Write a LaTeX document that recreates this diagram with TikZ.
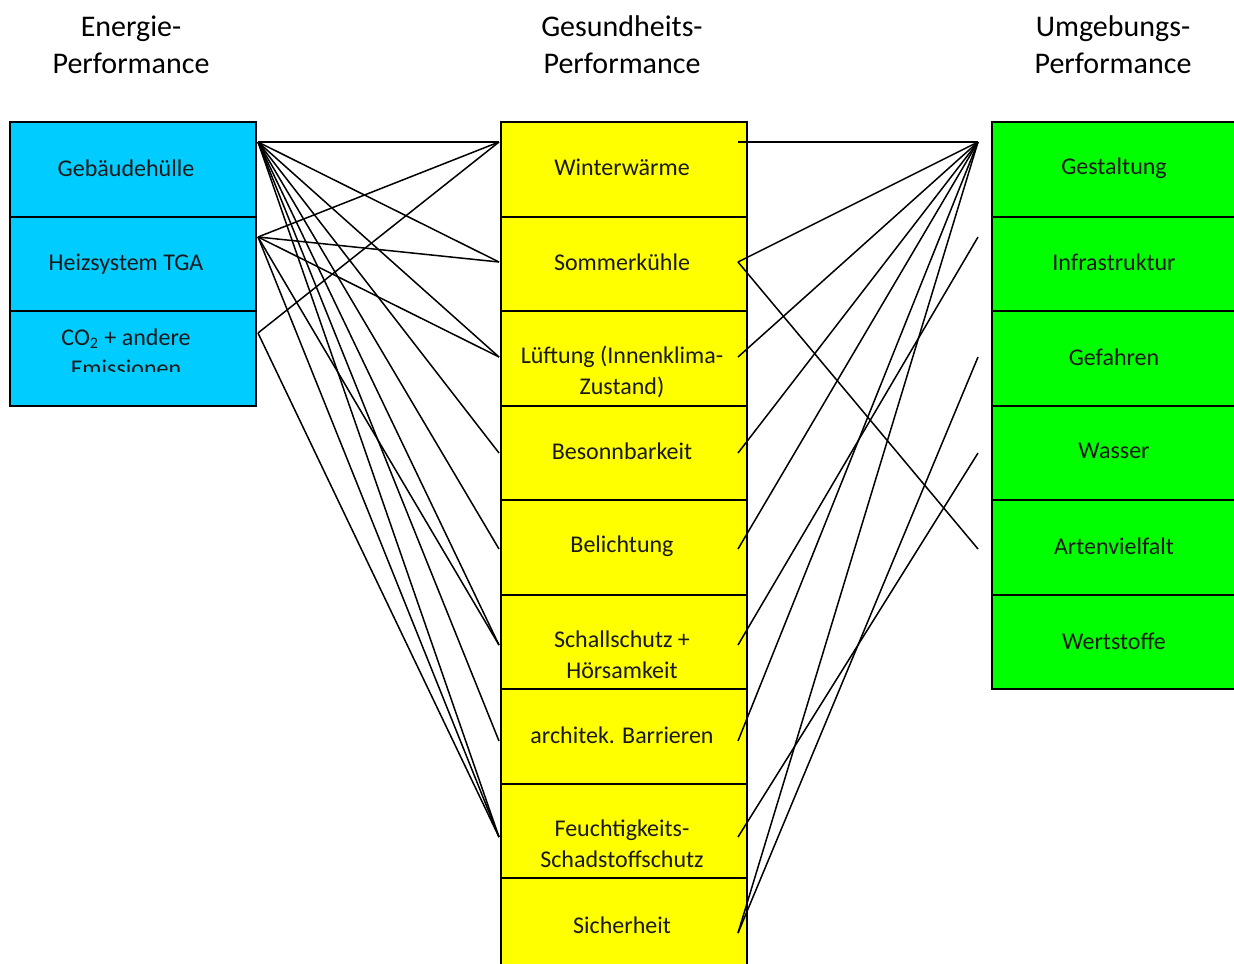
\documentclass[tikz,border=0pt]{standalone}
\usepackage{fontspec}
\setmainfont{Carlito}
\definecolor{ecol}{RGB}{0,204,255}
\definecolor{gcol}{RGB}{255,255,0}
\definecolor{ucol}{RGB}{0,255,0}
\begin{document}
\begin{tikzpicture}[x=0.5pt,y=-0.5pt,
  boxbase/.style={draw=black,line width=1pt,minimum width=123pt,minimum height=47.25pt,inner sep=0pt,anchor=north west},
  ebox/.style={boxbase,fill=ecol},
  gbox/.style={boxbase,fill=gcol},
  ubox/.style={boxbase,fill=ucol},
  txt/.style={inner sep=0pt,align=center,font=\fontsize{12}{15.5}\selectfont,text=black!90},
  head/.style={inner sep=0pt,align=center,font=\fontsize{15}{18.5}\selectfont},
  conn/.style={line width=0.75pt,black}
]
\useasboundingbox (0,0) rectangle (1234,963);
\clip (0,0) rectangle (1234,963);

% headings
\node[head] (h1) at (131,45) {Energie-\\Performance};
\node[head] (h2) at (622,45) {Gesundheits-\\Performance};
\node[head] (h3) at (1113,45) {Umgebungs-\\Performance};

% left boxes
\node[ebox] (e1) at (9,121) {};
\node[ebox] (e2) at (9,215.5) {};
\node[ebox] (e3) at (9,310) {};
% middle boxes
\foreach \i in {1,...,10}{
  \node[gbox] (g\i) at (500,{121+(\i-1)*94.5}) {};
}
% right boxes
\foreach \i in {1,...,6}{
  \node[ubox] (u\i) at (991,{121+(\i-1)*94.5}) {};
}

% texts left
\node[txt] (te1) at (126,168) {Gebäudehülle};
\node[txt] (te2) at (126,264) {Heizsystem TGA};
\begin{scope}
\clip (12,312) rectangle (252,371);
\node[txt,anchor=north] (te3) at (126,328) {CO\textsubscript{2} + andere\\Emissionen};
\end{scope}

% texts middle
\node[txt] (tg1) at (622,167) {Winterwärme};
\node[txt] (tg2) at (622,262) {Sommerkühle};
\node[txt,anchor=north] (tg3) at (622,346) {Lüftung (Innenklima-\\Zustand)};
\node[txt] (tg4) at (622,451) {Besonnbarkeit};
\node[txt] (tg5) at (622,546) {Belichtung};
\node[txt,anchor=north] (tg6) at (622,630) {Schallschutz +\\Hörsamkeit};
\node[txt] (tg7) at (622,735) {architek. Barrieren};
\node[txt,anchor=north] (tg8) at (622,819) {Feuchtigkeits-\\Schadstoffschutz};
\node[txt] (tg9) at (622,925) {Sicherheit};

% texts right
\node[txt] (tu1) at (1114,168) {Gestaltung};
\node[txt] (tu2) at (1114,262) {Infrastruktur};
\node[txt] (tu3) at (1114,357) {Gefahren};
\node[txt] (tu4) at (1114,451) {Wasser};
\node[txt] (tu5) at (1114,546) {Artenvielfalt};
\node[txt] (tu6) at (1114,641) {Wertstoffe};

% connector end points
\coordinate (eA) at (258,142);
\coordinate (eB) at (258,237);
\coordinate (eC) at (258,333);
\coordinate (mL1) at (499,142);
\coordinate (mL2) at (499,262);
\coordinate (mL3) at (499,357);
\coordinate (mL4) at (499,453);
\coordinate (mL5) at (499,549);
\coordinate (mL6) at (499,645);
\coordinate (mL7) at (499,741);
\coordinate (mL8) at (499,837);
\coordinate (mR1) at (738,142);
\coordinate (mR2) at (738,262);
\coordinate (mR3) at (738,357);
\coordinate (mR4) at (738,453);
\coordinate (mR5) at (738,549);
\coordinate (mR6) at (738,645);
\coordinate (mR7) at (738,741);
\coordinate (mR8) at (738,837);
\coordinate (mR9) at (738,933);
\coordinate (uP1) at (978,142);
\coordinate (uP2) at (978,237);
\coordinate (uP3) at (978,357);
\coordinate (uP4) at (978,453);
\coordinate (uP5) at (978,549);

% left connectors
\foreach \t in {1,...,8}{ \draw[conn] (eA) -- (mL\t); }
\foreach \t in {1,2,3,6,8}{ \draw[conn] (eB) -- (mL\t); }
\foreach \t in {1,8}{ \draw[conn] (eC) -- (mL\t); }

% right connectors
\foreach \t in {1,2,3,4,5,7,9}{ \draw[conn] (uP1) -- (mR\t); }
\draw[conn] (uP2) -- (mR6);
\draw[conn] (uP3) -- (mR9);
\draw[conn] (uP4) -- (mR8);
\draw[conn] (uP5) -- (mR2);
\end{tikzpicture}
\end{document}
